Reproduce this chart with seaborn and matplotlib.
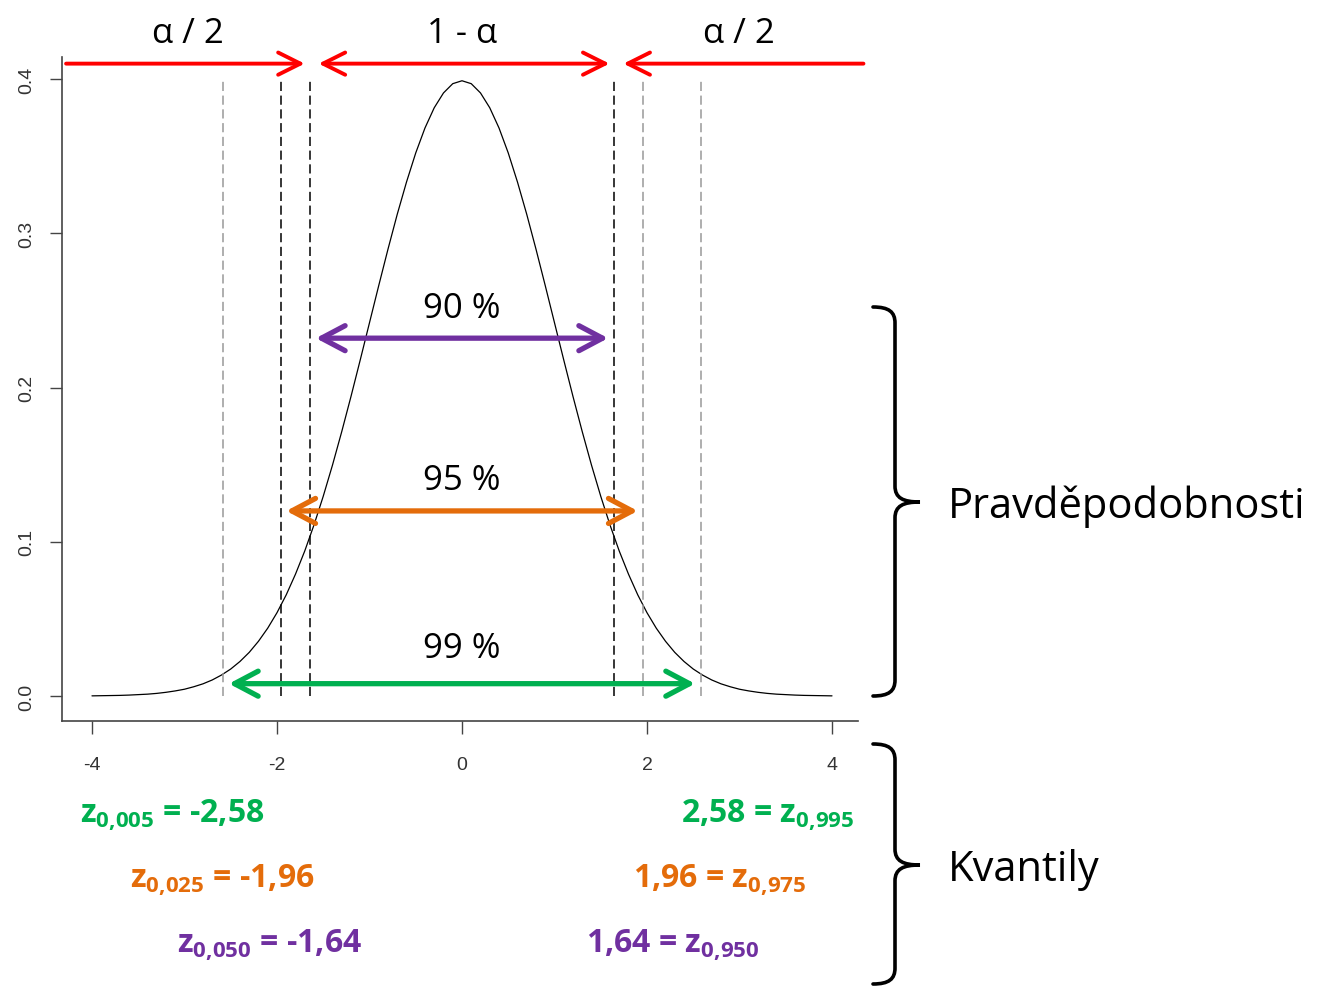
import matplotlib
matplotlib.use("Agg")
import matplotlib.pyplot as plt
import seaborn as sns
from matplotlib.path import Path
from matplotlib.patches import PathPatch

# hustota N(0,1)
x_vals = [-4.0, -3.9, -3.8, -3.7, -3.6, -3.5, -3.4, -3.3, -3.2, -3.1,
          -3.0, -2.9, -2.8, -2.7, -2.6, -2.5, -2.4, -2.3, -2.2, -2.1,
          -2.0, -1.9, -1.8, -1.7, -1.6, -1.5, -1.4, -1.3, -1.2, -1.1,
          -1.0, -0.9, -0.8, -0.7, -0.6, -0.5, -0.4, -0.3, -0.2, -0.1,
          0.0, 0.1, 0.2, 0.3, 0.4, 0.5, 0.6, 0.7, 0.8, 0.9,
          1.0, 1.1, 1.2, 1.3, 1.4, 1.5, 1.6, 1.7, 1.8, 1.9,
          2.0, 2.1, 2.2, 2.3, 2.4, 2.5, 2.6, 2.7, 2.8, 2.9,
          3.0, 3.1, 3.2, 3.3, 3.4, 3.5, 3.6, 3.7, 3.8, 3.9, 4.0]
hustota = [0.0001, 0.0002, 0.0003, 0.0004, 0.0006, 0.0009, 0.0012, 0.0017, 0.0024, 0.0033,
           0.0044, 0.0060, 0.0079, 0.0104, 0.0136, 0.0175, 0.0224, 0.0283, 0.0355, 0.0440,
           0.0540, 0.0656, 0.0790, 0.0940, 0.1109, 0.1295, 0.1497, 0.1714, 0.1942, 0.2179,
           0.2420, 0.2661, 0.2897, 0.3123, 0.3332, 0.3521, 0.3683, 0.3814, 0.3910, 0.3970,
           0.3989, 0.3970, 0.3910, 0.3814, 0.3683, 0.3521, 0.3332, 0.3123, 0.2897, 0.2661,
           0.2420, 0.2179, 0.1942, 0.1714, 0.1497, 0.1295, 0.1109, 0.0940, 0.0790, 0.0656,
           0.0540, 0.0440, 0.0355, 0.0283, 0.0224, 0.0175, 0.0136, 0.0104, 0.0079, 0.0060,
           0.0044, 0.0033, 0.0024, 0.0017, 0.0012, 0.0009, 0.0006, 0.0004, 0.0003, 0.0002, 0.0001]

# urovne spolehlivosti: 90, 95, 99 %
urovne = ["90 %", "95 %", "99 %"]
kvantily = [1.64, 1.96, 2.58]
kvantil_text = ["1,64", "1,96", "2,58"]
alfa_dolni = ["0,050", "0,025", "0,005"]
alfa_horni = ["0,950", "0,975", "0,995"]
sipka_y = [0.232, 0.120, 0.008]
popisek_y = [0.246, 0.134, 0.025]
barvy = ["#7030A0", "#E46C0A", "#00B050"]

# svisle carkovane cary (leva -1.96 cerna, prava 1.96 seda - jako v originale)
cary_x = [-2.58, -1.96, -1.64, 1.64, 1.96, 2.58]
cary_barva = ["#999999", "black", "black", "black", "#999999", "#999999"]

# cervene sipky nahore
cervena_y = 0.41
cervena_kraje = [-4.28, 4.34]
hlavicky = ["α / 2", "1 - α", "α / 2"]
hlavicka_y = 0.424

x_ticks = [-4, -2, 0, 2, 4]
x_labels = ["-4", "-2", "0", "2", "4"]
y_ticks = [0.0, 0.1, 0.2, 0.3, 0.4]
y_labels = ["0.0", "0.1", "0.2", "0.3", "0.4"]

W, H = 1318, 987
sns.set_style("ticks")
plt.rcParams['font.family'] = ['Open Sans', 'DejaVu Sans']
plt.rcParams['text.color'] = 'black'
plt.rcParams['mathtext.fontset'] = 'custom'
plt.rcParams['mathtext.rm'] = 'Open Sans'
plt.rcParams['mathtext.bf'] = 'Open Sans:bold'
plt.rcParams['mathtext.it'] = 'Open Sans:italic'


def px(x, y):
    return x / W, 1 - y / H


fig = plt.figure(figsize=(W / 100, H / 100), dpi=100)
ax = fig.add_axes([62 / W, 1 - 722 / H, (858 - 62) / W, (722 - 58) / H])

sns.lineplot(x=x_vals, y=hustota, ax=ax, color="black", lw=0.9)
ax.vlines(cary_x, 0, 0.4, colors=cary_barva, linestyles=(0, (6, 3)), lw=1.1)

ax.set_xlim(-4.324, 4.281)
ax.set_ylim(-0.0162, 0.4143)
ax.set_xticks(x_ticks)
ax.set_xticklabels(x_labels, family="Liberation Sans", fontsize=14, color="#333333")
ax.set_yticks(y_ticks)
ax.set_yticklabels(y_labels, family="Liberation Sans", fontsize=14, color="#333333",
                   rotation=90, va="center")
ax.tick_params(axis="x", length=9, width=1, color="#444444", pad=16)
ax.tick_params(axis="y", length=9, width=1, color="#444444", pad=10)
sns.despine(ax=ax)
for s in ["left", "bottom"]:
    ax.spines[s].set_color("#444444")
    ax.spines[s].set_linewidth(1.2)

# barevne obousmerne sipky + popisky procent
for q, y, ty, lab, c in zip(kvantily, sipka_y, popisek_y, urovne, barvy):
    ax.annotate("", xy=(q, y), xytext=(-q, y),
                arrowprops=dict(arrowstyle="<->,head_length=0.85,head_width=0.45",
                                color=c, lw=3.8, shrinkA=4, shrinkB=4, mutation_scale=20))
    ax.text(0, ty, lab, ha="center", va="baseline", fontsize=25, color="black")

# cervene sipky alfa
q90 = kvantily[0]
red = dict(color="red", lw=2.8, mutation_scale=20)
ax.annotate("", xy=(-q90, cervena_y), xytext=(cervena_kraje[0], cervena_y), annotation_clip=False,
            arrowprops=dict(arrowstyle="->,head_length=0.8,head_width=0.4", shrinkA=0, shrinkB=4, **red))
ax.annotate("", xy=(q90, cervena_y), xytext=(-q90, cervena_y), annotation_clip=False,
            arrowprops=dict(arrowstyle="<->,head_length=0.8,head_width=0.4", shrinkA=6, shrinkB=3, **red))
ax.annotate("", xy=(q90, cervena_y), xytext=(cervena_kraje[1], cervena_y), annotation_clip=False,
            arrowprops=dict(arrowstyle="->,head_length=0.8,head_width=0.4", shrinkA=0, shrinkB=7, **red))
stredy = [(cervena_kraje[0] - q90) / 2, 0, (cervena_kraje[1] + q90) / 2]
for xs, t in zip(stredy, hlavicky):
    ax.text(xs, hlavicka_y, t, ha="center", va="baseline", fontsize=25, clip_on=False)

# kvantily pod osou
levy_x = [177, 130, 80]
pravy_x = [760, 807, 855]
radek_y = [953, 888, 823]
for i in range(3):
    c = barvy[i]
    fig.text(*px(levy_x[i], radek_y[i]),
             r"$\mathbf{z_{%s}}$ = -%s" % (alfa_dolni[i].replace(",", "{,}"), kvantil_text[i]),
             ha="left", va="baseline", fontsize=23, fontweight="bold", color=c)
    fig.text(*px(pravy_x[i], radek_y[i]),
             r"%s = $\mathbf{z_{%s}}$" % (kvantil_text[i], alfa_horni[i].replace(",", "{,}")),
             ha="right", va="baseline", fontsize=23, fontweight="bold", color=c)


# slozene zavorky vpravo
def zavorka(y0, ym, y1, x0=873, xs=895, xt=920, r=16):
    v = [(x0, y0), (x0 + 16, y0), (xs, y0 + 5), (xs, y0 + r),
         (xs, ym - r),
         (xs, ym - 4), (xs + 8, ym), (xt, ym),
         (xs + 8, ym), (xs, ym + 4), (xs, ym + r),
         (xs, y1 - r),
         (xs, y1 - 5), (x0 + 16, y1), (x0, y1)]
    kody = [Path.MOVETO, Path.CURVE4, Path.CURVE4, Path.CURVE4,
            Path.LINETO,
            Path.CURVE4, Path.CURVE4, Path.CURVE4,
            Path.CURVE4, Path.CURVE4, Path.CURVE4,
            Path.LINETO,
            Path.CURVE4, Path.CURVE4, Path.CURVE4]
    body = [px(a, b) for a, b in v]
    fig.add_artist(PathPatch(Path(body, kody), transform=fig.transFigure,
                             fill=False, lw=2.6, color="black", capstyle="round"))


zavorka(308, 503, 697)
zavorka(745, 866, 985)
fig.text(*px(948, 518), "Pravděpodobnosti", ha="left", va="baseline", fontsize=30)
fig.text(*px(948, 881), "Kvantily", ha="left", va="baseline", fontsize=30)

fig.savefig("out.png", dpi=100, facecolor="white")
